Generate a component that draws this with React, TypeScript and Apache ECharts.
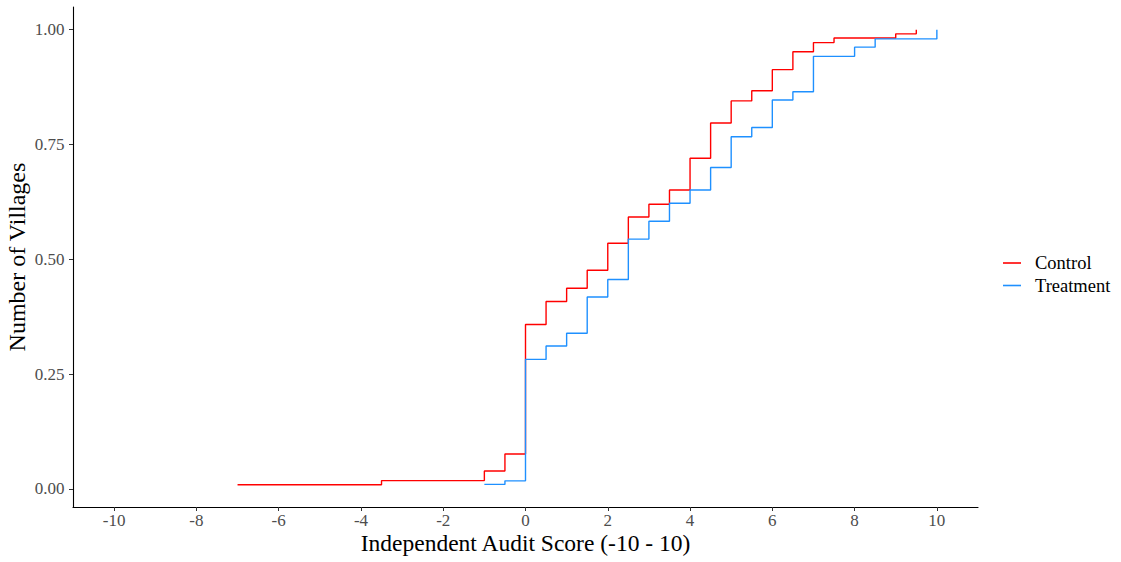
import React, { useEffect, useRef } from "react";
import * as echarts from "echarts";

const controlX = [-7, -3.5, -1, -0.5, 0, 0.5, 1, 1.5, 2, 2.5, 3, 3.5, 4, 4.5, 5, 5.5, 6, 6.5, 7, 7.5, 9, 9.5];
const controlY = [0.009, 0.018, 0.039, 0.076, 0.358, 0.408, 0.437, 0.476, 0.535, 0.592, 0.62, 0.651, 0.72, 0.797, 0.845, 0.867, 0.913, 0.952, 0.972, 0.982, 0.991, 1.0];

const treatX = [-1, -0.5, 0, 0.5, 1, 1.5, 2, 2.5, 3, 3.5, 4, 4.5, 5, 5.5, 6, 6.5, 7, 8, 8.5, 10];
const treatY = [0.0097, 0.0175, 0.282, 0.311, 0.339, 0.418, 0.456, 0.544, 0.583, 0.622, 0.651, 0.7, 0.767, 0.787, 0.847, 0.865, 0.942, 0.962, 0.98, 1.0];

const xTicks = [-10, -8, -6, -4, -2, 0, 2, 4, 6, 8, 10];
const yTicks = [0, 0.25, 0.5, 0.75, 1.0];

const FONT = "'Liberation Serif', 'Times New Roman', serif";

export default function App() {
  const ref = useRef<HTMLDivElement>(null);
  useEffect(() => {
    if (!ref.current) return;
    const chart = echarts.init(ref.current, undefined, { renderer: "svg" });
    const zip = (xs: number[], ys: number[]) => xs.map((x, i) => [x, ys[i]]);
    chart.setOption({
      animation: false,
      backgroundColor: "#ffffff",
      textStyle: { fontFamily: FONT },
      grid: { left: 73, top: 7, width: 905, height: 500, containLabel: false, outerBoundsMode: "none" },
      legend: {
        orient: "vertical",
        left: 998,
        top: 248.5,
        icon: "rect",
        itemWidth: 18,
        itemHeight: 1.6,
        itemGap: 3.5,
        textStyle: { fontFamily: FONT, fontSize: 18.5, color: "#000", padding: [0, 0, 0, 9] },
        data: ["Control", "Treatment"],
      },
      xAxis: {
        type: "value",
        min: -11,
        max: 11,
        name: "Independent Audit Score (-10 - 10)",
        nameLocation: "middle",
        nameGap: 24,
        nameMoveOverlap: false,
        nameTextStyle: { fontFamily: FONT, fontSize: 23.5, color: "#000" },
        axisLine: { show: true, onZero: false, lineStyle: { color: "#000", width: 1.1 } },
        axisTick: { show: true, length: 4, customValues: xTicks, lineStyle: { color: "#333" } },
        axisLabel: { customValues: xTicks, margin: 5, fontFamily: FONT, fontSize: 17, color: "#4d4d4d" },
        splitLine: { show: false },
      },
      yAxis: {
        type: "value",
        min: -0.0395,
        max: 1.0495,
        name: "Number of Villages",
        nameLocation: "middle",
        nameGap: 44,
        nameMoveOverlap: false,
        nameTextStyle: { fontFamily: FONT, fontSize: 24, color: "#000" },
        axisLine: { show: true, onZero: false, lineStyle: { color: "#000", width: 1.1 } },
        axisTick: { show: true, length: 4, customValues: yTicks, lineStyle: { color: "#333" } },
        axisLabel: {
          customValues: yTicks,
          margin: 8.5,
          fontFamily: FONT,
          fontSize: 17,
          color: "#4d4d4d",
          formatter: (v: number) => v.toFixed(2),
        },
        splitLine: { show: false },
      },
      series: [
        {
          name: "Control",
          type: "line",
          step: "end",
          symbol: "none",
          data: zip(controlX, controlY),
          lineStyle: { color: "#ff0000", width: 1.4 },
          itemStyle: { color: "#ff0000" },
        },
        {
          name: "Treatment",
          type: "line",
          step: "end",
          symbol: "none",
          data: zip(treatX, treatY),
          lineStyle: { color: "#1e90ff", width: 1.4 },
          itemStyle: { color: "#1e90ff" },
        },
      ],
    });
    return () => chart.dispose();
  }, []);
  return (
    <div
      ref={ref}
      style={{ position: "fixed", left: 0, top: 0, width: 1121, height: 562, background: "#fff" }}
    />
  );
}
